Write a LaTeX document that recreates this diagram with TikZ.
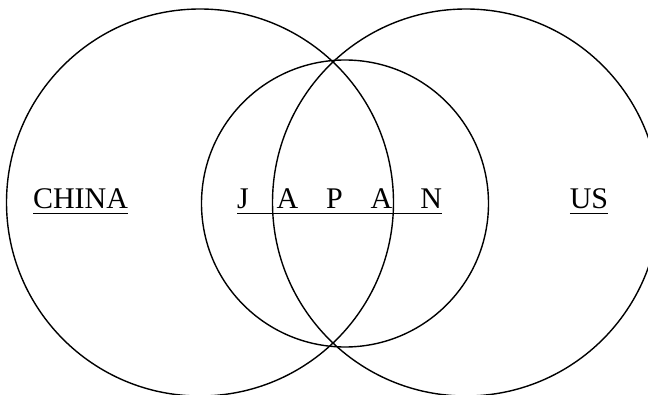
\documentclass[tikz,border=0pt]{standalone}
\usepackage{fontspec}
\setmainfont{Liberation Serif}
\usepackage{tikz}
\usetikzlibrary{positioning}

% underline with a slightly heavier bar
\newcommand{\ulbar}[1]{\setbox0\hbox{#1}\rlap{\rule[-2.7pt]{\wd0}{0.9pt}}\box0}

\begin{document}
\begin{tikzpicture}[
    x=0.5pt, y=-0.5pt,
    ring/.style={draw, line width=0.7pt},
    country/.style={anchor=base, font=\fontsize{15}{18}\selectfont, inner sep=0pt}
  ]

  \useasboundingbox (0,0) rectangle (648,395);

  % ── Circles ───────────────────────────────────────────────────
  \draw[ring] (200,202.5)   circle[radius=96.75pt];
  \draw[ring] (466,202.5)   circle[radius=96.75pt];
  \draw[ring] (345,203.5)   circle[radius=71.75pt];

  % ── Labels ────────────────────────────────────────────────────
  \node[country] (china) at (80.5,209) {\ulbar{CHINA}};
  \node[country] (japan) at (339.5,209)
    {\ulbar{J\hspace{0.93em}A\hspace{0.93em}P\hspace{0.93em}A\hspace{0.93em}N}};
  \node[country] (us)    at (589,209) {\ulbar{US}};

\end{tikzpicture}
\end{document}
